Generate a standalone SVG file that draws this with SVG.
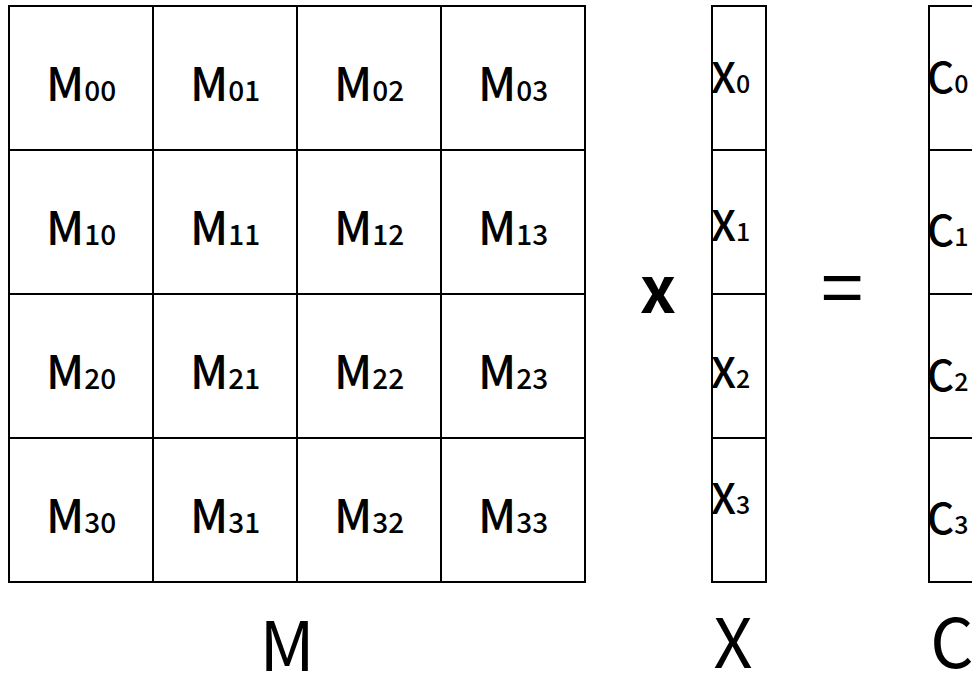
<svg xmlns="http://www.w3.org/2000/svg" width="972" height="674" viewBox="0 0 972 674">
  <style>
    .cell { fill: #ffffff; stroke: #000000; stroke-width: 2; }
    .lbl { font-family: "Noto Sans CJK KR", "Noto Sans", sans-serif; fill: #000000; }
    .m { font-size: 46px; font-weight: 500; }
    .m .sub { font-size: 28px; }
    .v { font-size: 42px; font-weight: 500; }
    .v .sub { font-size: 25px; }
    .big { font-size: 68px; font-weight: 400; }
    .op { font-size: 64px; font-weight: 700; }
    .eq { font-size: 76px; font-weight: 400; }
  </style>
  <rect width="972" height="674" fill="#ffffff"/>

  <!-- matrix M: 4x4 cells -->
  <g id="matrix-M">
    <g id="m00"><rect class="cell" x="9" y="6" width="144" height="144"/><text class="lbl m" x="46" y="101">M<tspan class="sub">00</tspan></text></g>
    <g id="m01"><rect class="cell" x="153" y="6" width="144" height="144"/><text class="lbl m" x="190" y="101">M<tspan class="sub">01</tspan></text></g>
    <g id="m02"><rect class="cell" x="297" y="6" width="144" height="144"/><text class="lbl m" x="334" y="101">M<tspan class="sub">02</tspan></text></g>
    <g id="m03"><rect class="cell" x="441" y="6" width="144" height="144"/><text class="lbl m" x="478" y="101">M<tspan class="sub">03</tspan></text></g>

    <g id="m10"><rect class="cell" x="9" y="150" width="144" height="144"/><text class="lbl m" x="46" y="245">M<tspan class="sub">10</tspan></text></g>
    <g id="m11"><rect class="cell" x="153" y="150" width="144" height="144"/><text class="lbl m" x="190" y="245">M<tspan class="sub">11</tspan></text></g>
    <g id="m12"><rect class="cell" x="297" y="150" width="144" height="144"/><text class="lbl m" x="334" y="245">M<tspan class="sub">12</tspan></text></g>
    <g id="m13"><rect class="cell" x="441" y="150" width="144" height="144"/><text class="lbl m" x="478" y="245">M<tspan class="sub">13</tspan></text></g>

    <g id="m20"><rect class="cell" x="9" y="294" width="144" height="144"/><text class="lbl m" x="46" y="389">M<tspan class="sub">20</tspan></text></g>
    <g id="m21"><rect class="cell" x="153" y="294" width="144" height="144"/><text class="lbl m" x="190" y="389">M<tspan class="sub">21</tspan></text></g>
    <g id="m22"><rect class="cell" x="297" y="294" width="144" height="144"/><text class="lbl m" x="334" y="389">M<tspan class="sub">22</tspan></text></g>
    <g id="m23"><rect class="cell" x="441" y="294" width="144" height="144"/><text class="lbl m" x="478" y="389">M<tspan class="sub">23</tspan></text></g>

    <g id="m30"><rect class="cell" x="9" y="438" width="144" height="144"/><text class="lbl m" x="46" y="533">M<tspan class="sub">30</tspan></text></g>
    <g id="m31"><rect class="cell" x="153" y="438" width="144" height="144"/><text class="lbl m" x="190" y="533">M<tspan class="sub">31</tspan></text></g>
    <g id="m32"><rect class="cell" x="297" y="438" width="144" height="144"/><text class="lbl m" x="334" y="533">M<tspan class="sub">32</tspan></text></g>
    <g id="m33"><rect class="cell" x="441" y="438" width="144" height="144"/><text class="lbl m" x="478" y="533">M<tspan class="sub">33</tspan></text></g>
  </g>

  <!-- vector X -->
  <g id="vector-X">
    <g id="x0"><rect class="cell" x="712" y="6" width="54" height="144"/><text class="lbl v" x="711" y="93">X<tspan class="sub">0</tspan></text></g>
    <g id="x1"><rect class="cell" x="712" y="150" width="54" height="144"/><text class="lbl v" x="711" y="241">X<tspan class="sub">1</tspan></text></g>
    <g id="x2"><rect class="cell" x="712" y="294" width="54" height="144"/><text class="lbl v" x="711" y="388">X<tspan class="sub">2</tspan></text></g>
    <g id="x3"><rect class="cell" x="712" y="438" width="54" height="144"/><text class="lbl v" x="711" y="514">X<tspan class="sub">3</tspan></text></g>
  </g>

  <!-- vector C (runs past the right edge) -->
  <g id="vector-C">
    <g id="c0"><rect class="cell" x="929" y="6" width="60" height="144"/><text class="lbl v" x="927" y="93">C<tspan class="sub">0</tspan></text></g>
    <g id="c1"><rect class="cell" x="929" y="150" width="60" height="144"/><text class="lbl v" x="927" y="246">C<tspan class="sub">1</tspan></text></g>
    <g id="c2"><rect class="cell" x="929" y="294" width="60" height="144"/><text class="lbl v" x="927" y="391">C<tspan class="sub">2</tspan></text></g>
    <g id="c3"><rect class="cell" x="929" y="438" width="60" height="144"/><text class="lbl v" x="927" y="534">C<tspan class="sub">3</tspan></text></g>
  </g>

  <!-- operators -->
  <g id="operators">
    <text class="lbl op" x="658" y="313" text-anchor="middle">x</text>
    <text class="lbl eq" x="842" y="316" text-anchor="middle">=</text>
  </g>

  <!-- names under each operand -->
  <g id="names">
    <text class="lbl big" x="287" y="671" text-anchor="middle">M</text>
    <text class="lbl big" x="733" y="668" text-anchor="middle">X</text>
    <text class="lbl big" x="952" y="668" text-anchor="middle">C</text>
  </g>
</svg>
